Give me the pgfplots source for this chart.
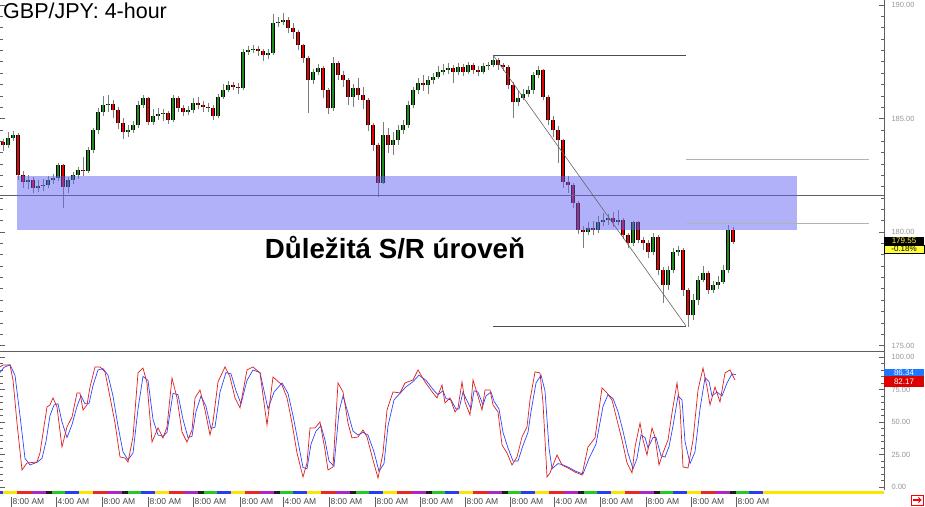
\documentclass[border=0pt]{standalone}
\usepackage{pgfplots}
\usepackage{pgfplotstable}
\pgfplotsset{compat=1.18}
\usepackage{fontspec}
\setmainfont{Liberation Sans}

\definecolor{upgreen}{RGB}{31,140,31}
\definecolor{downred}{RGB}{235,0,0}
\definecolor{wickgray}{RGB}{125,125,125}
\definecolor{bandblue}{RGB}{100,100,245}
\definecolor{framegray}{RGB}{95,95,95}
\definecolor{labelgray}{RGB}{150,150,150}
\definecolor{timegray}{RGB}{70,70,70}
\definecolor{stochblue}{RGB}{45,70,255}
\definecolor{stochred}{RGB}{220,30,30}
\definecolor{tagyellow}{RGB}{255,255,60}
\definecolor{tagblue}{RGB}{30,120,255}
\definecolor{tagred}{RGB}{220,0,0}
\definecolor{sy}{RGB}{250,230,0}
\definecolor{sr}{RGB}{235,40,40}
\definecolor{sp}{RGB}{170,40,200}
\definecolor{sk}{RGB}{30,30,30}
\definecolor{sg}{RGB}{40,200,40}
\definecolor{sb}{RGB}{40,60,240}

% GBP/JPY 4-hour candles: x (chart position), open, high, low, close
\pgfplotstableread{
x o h l c
3 183.95 184.10 183.55 183.83
8 183.83 184.40 183.70 184.14
13 184.14 184.45 184.00 184.27
18 184.27 184.35 182.30 182.51
23 182.51 182.70 181.95 182.20
28 182.20 182.50 181.90 182.29
33 182.29 182.40 181.70 181.94
38 181.94 182.30 181.75 182.03
43 182.03 182.35 181.80 182.07
48 182.07 182.45 181.95 182.29
53 182.29 182.55 182.10 182.38
58 182.38 183.05 182.25 182.95
63 182.95 183.00 181.06 181.98
68 181.98 182.40 181.70 182.29
73 182.29 182.65 182.10 182.51
78 182.51 182.85 182.35 182.73
83 182.73 183.30 182.45 182.70
88 182.70 183.75 182.60 183.61
93 183.61 184.60 183.50 184.49
98 184.49 185.45 184.30 185.29
103 185.29 186.00 185.10 185.59
108 185.59 186.05 185.30 185.64
113 185.64 185.80 185.00 185.37
118 185.37 185.50 184.55 184.80
123 184.80 185.00 184.10 184.41
128 184.41 184.70 184.20 184.49
133 184.49 184.90 184.35 184.71
138 184.71 185.75 184.60 185.59
143 185.59 186.05 185.45 185.90
148 185.90 185.95 184.70 184.85
153 184.85 185.40 184.70 185.11
158 185.11 185.45 184.95 185.20
163 185.20 185.40 184.90 185.24
168 185.24 185.35 184.75 184.93
173 184.93 186.05 184.85 185.90
178 185.90 186.00 185.30 185.46
183 185.46 185.60 185.10 185.29
188 185.29 185.55 185.15 185.37
193 185.37 185.90 185.25 185.68
198 185.68 185.95 185.40 185.59
203 185.59 185.75 185.30 185.51
208 185.51 185.70 185.30 185.46
213 185.46 185.60 184.95 185.11
218 185.11 186.10 185.00 185.95
223 185.95 186.50 185.85 186.26
228 186.26 186.65 186.15 186.48
233 186.48 186.60 186.25 186.39
238 186.39 186.55 186.10 186.34
243 186.34 188.05 186.25 187.93
248 187.93 188.20 187.80 188.02
253 188.02 188.25 187.90 188.06
258 188.06 188.20 187.75 187.97
263 187.97 188.05 187.55 187.80
268 187.80 188.05 187.60 187.89
273 187.89 189.60 187.80 189.21
278 189.21 189.45 189.05 189.25
283 189.25 189.65 189.10 189.34
288 189.34 189.45 188.75 188.99
293 188.99 189.20 188.50 188.81
298 188.81 188.90 188.00 188.24
303 188.24 188.30 187.45 187.67
308 187.67 187.75 185.24 186.70
313 186.70 187.20 186.50 187.05
318 187.05 187.40 186.90 187.22
323 187.22 187.30 185.90 186.26
328 186.26 186.35 185.20 185.46
333 185.46 187.70 185.35 187.45
338 187.45 187.55 186.70 186.92
343 186.92 187.10 186.40 186.70
348 186.70 186.80 185.60 185.95
353 185.95 186.50 185.50 186.34
358 186.34 186.80 185.80 186.04
363 186.04 186.40 185.40 185.81
368 185.81 185.90 184.45 184.71
373 184.71 184.80 183.55 183.83
378 183.83 183.90 181.54 182.16
383 182.16 184.85 182.10 184.27
388 184.27 184.60 183.50 183.83
393 183.83 184.40 183.40 184.05
398 184.05 184.70 183.85 184.49
403 184.49 184.95 184.30 184.71
408 184.71 185.75 184.60 185.59
413 185.59 186.40 185.45 186.26
418 186.26 186.80 186.10 186.56
423 186.56 186.90 186.20 186.48
428 186.48 186.85 186.10 186.70
433 186.70 187.00 186.50 186.83
438 186.83 187.30 186.75 187.05
443 187.05 187.40 186.90 187.14
448 187.14 187.45 186.95 187.22
453 187.22 187.35 186.55 187.05
458 187.05 187.45 186.90 187.27
463 187.27 187.40 186.85 187.05
468 187.05 187.50 186.95 187.36
473 187.36 187.45 186.95 187.14
478 187.14 187.30 186.85 187.05
483 187.05 187.45 186.95 187.31
488 187.31 187.50 187.15 187.36
493 187.36 187.80 187.25 187.58
498 187.58 187.65 187.15 187.36
503 187.36 187.45 187.10 187.27
508 187.27 187.35 186.30 186.48
513 186.48 186.60 185.02 185.73
518 185.73 186.20 185.55 185.90
523 185.90 186.30 185.80 186.08
528 186.08 186.45 185.95 186.26
533 186.26 187.05 186.10 186.92
538 186.92 187.30 186.80 187.14
543 187.14 187.20 185.80 185.95
548 185.95 186.05 184.70 184.93
553 184.93 185.10 184.20 184.49
558 184.49 184.65 183.04 184.05
563 184.05 184.10 181.95 182.20
568 182.20 182.45 181.72 182.07
573 182.07 182.15 181.05 181.28
578 181.28 181.35 179.90 180.09
583 180.09 180.25 179.30 180.00
588 180.00 180.45 179.85 180.18
593 180.18 180.50 179.85 180.09
598 180.09 180.70 179.95 180.44
603 180.44 180.85 180.25 180.53
608 180.53 180.80 180.30 180.62
613 180.62 180.90 180.20 180.44
618 180.44 180.95 180.30 180.53
623 180.53 180.60 179.70 179.87
628 179.87 179.95 179.30 179.52
633 179.52 180.50 179.40 180.44
638 180.44 180.50 179.50 179.65
643 179.65 179.80 179.20 179.52
648 179.52 179.65 178.85 179.12
653 179.12 179.95 179.00 179.78
658 179.78 179.85 178.10 178.33
663 178.33 178.45 176.87 177.67
668 177.67 178.50 177.45 178.33
673 178.33 179.30 178.20 179.12
678 179.12 179.40 178.95 179.21
683 179.21 179.30 177.20 177.44
688 177.44 177.55 175.82 176.34
693 176.34 177.25 176.10 177.00
698 177.00 178.05 176.80 177.89
703 177.89 178.50 177.80 178.19
708 178.19 178.30 177.25 177.44
713 177.44 177.85 177.30 177.67
718 177.67 178.05 177.50 177.80
723 177.80 178.55 177.70 178.33
728 178.33 180.30 178.20 180.09
733 180.09 180.20 179.45 179.55
}\candles

% stochastic, fast line (red)
\pgfplotstableread{
x v
0 92.3
3 93.8
10 93.8
13 82.3
17 49.2
22 13.1
27 18.5
37 19.2
40 26.2
43 41.5
47 61.5
50 63.1
53 68.5
57 61.5
62 30.8
67 46.2
72 53.8
77 72.3
80 72.3
83 59.2
87 63.1
90 76.9
95 92.3
100 92.3
105 88.5
110 69.2
115 49.2
120 23.1
125 22.3
128 19.2
133 38.5
138 87.7
143 91.5
147 80.0
152 34.6
158 45.4
163 37.7
167 46.2
172 83.8
177 68.5
182 42.3
187 34.6
192 43.8
195 68.5
200 74.6
205 59.2
210 40.0
213 50.0
218 80.8
225 92.3
230 84.6
235 68.5
240 60.8
247 90.0
253 92.3
260 87.7
267 47.7
273 84.6
282 78.5
287 68.5
292 49.2
297 26.2
303 7.7
307 18.5
310 45.4
315 45.4
320 50.0
325 28.5
328 13.1
333 15.4
338 80.0
343 73.1
348 49.2
352 37.7
358 38.5
363 43.8
367 38.5
373 20.8
378 6.9
383 26.2
387 59.2
393 73.1
400 72.3
405 80.0
413 82.3
418 90.0
425 80.8
433 72.3
437 68.5
442 78.5
445 64.6
450 68.5
455 57.7
458 60.8
462 80.8
465 65.4
470 55.4
473 82.3
477 72.3
482 59.2
485 74.6
490 74.6
493 63.1
498 57.7
502 32.3
507 26.2
512 16.9
517 23.1
522 38.5
527 46.2
530 66.9
535 88.5
540 87.7
543 64.6
547 7.7
550 10.8
557 24.6
562 16.9
568 14.6
575 11.5
582 9.2
588 30.8
595 37.7
602 76.2
607 72.3
612 66.9
617 51.5
622 36.2
627 18.5
632 10.8
635 30.8
640 49.2
643 36.2
647 24.6
652 45.4
655 38.5
659 16.9
663 26.2
668 36.2
672 56.9
677 80.0
680 61.5
683 15.4
688 14.6
693 36.2
698 74.6
703 91.5
707 76.9
710 63.1
715 76.9
720 65.4
725 87.7
730 90.0
735 82.2
}\stochfast

% stochastic, slow line (blue)
\pgfplotstableread{
x v
0 88
4 92
10 94
15 86
20 55
25 22
30 17
37 19
42 22
46 35
50 55
54 63
58 64
62 50
67 38
72 48
77 62
81 70
85 64
89 64
93 78
98 90
103 91
108 86
113 70
118 47
123 27
128 21
133 26
138 60
143 85
148 82
153 52
158 40
163 39
167 42
173 72
178 71
183 52
188 38
192 39
196 58
201 70
206 62
211 45
215 46
220 73
226 88
231 87
236 74
241 64
247 82
253 90
260 88
268 60
274 73
282 80
288 72
293 55
298 35
303 15
307 14
311 33
316 43
321 47
325 36
329 20
334 16
339 58
343 70
348 57
353 43
358 40
363 42
368 40
374 27
379 12
384 18
388 47
394 67
400 72
406 77
413 81
419 86
426 82
433 75
438 71
443 74
446 68
451 67
456 60
459 60
463 73
466 68
471 60
474 74
478 73
483 63
486 70
491 73
494 66
499 60
503 42
508 30
513 20
518 20
523 32
528 42
531 58
536 80
541 86
545 74
549 30
552 14
558 18
563 17
569 15
576 12
583 10
589 22
596 33
603 62
608 71
613 68
618 58
623 43
628 26
633 14
637 22
641 40
645 38
648 30
653 38
656 38
661 24
665 23
669 31
673 47
678 70
682 67
685 35
690 18
695 27
700 60
705 84
709 81
712 70
717 73
722 70
727 80
732 87
736 86.3
}\stochslow

\newcommand{\tl}[1]{\textcolor{framegray}{\rule[-2pt]{0.6pt}{10pt}}\hspace{1.5pt}#1}

\pgfplotsset{panel/.style={
  scale only axis, width=884pt, anchor=south west,
  xmin=0, xmax=884, clip=true,
  axis line style={draw=none},
  tick align=inside, ytick pos=both, yticklabel pos=right,
  major tick length=5pt, minor tick length=3pt,
  tick style={framegray, line width=0.5pt},
  yticklabel style={font=\fontsize{7.5}{9}\selectfont, text=labelgray, anchor=west, xshift=4pt},
}}

\begin{document}
\begin{tikzpicture}[x=1pt,y=1pt]

% price panel
\begin{axis}[panel, at={(0pt,156pt)}, height=350pt,
  ymin=174.80, ymax=190.22,
  xtick=\empty,
  ytick={175,180,185,190}, minor y tick num=9,
  yticklabels={175.00,180.00,185.00,190.00}]

\addplot[draw=none, mark=none, forget plot,
  error bars/.cd, y dir=plus, y explicit, error mark=none,
  error bar style={draw=wickgray, line width=0.8pt}]
  table[x=x, y=l, y error expr={\thisrow{h}-\thisrow{l}}] {\candles};

\addplot[draw=none, mark=none, forget plot,
  error bars/.cd, y dir=plus, y explicit, error mark=none,
  error bar style={draw=black, line width=3.4pt}]
  table[x=x, y expr={min(\thisrow{o},\thisrow{c})}, y error expr={max(abs(\thisrow{c}-\thisrow{o}),0.04)}] {\candles};

\addplot[draw=none, mark=none, forget plot, unbounded coords=discard,
  error bars/.cd, y dir=plus, y explicit, error mark=none,
  error bar style={draw=upgreen, line width=2pt}]
  table[x=x, y expr={\thisrow{c}>=\thisrow{o} ? \thisrow{o} : nan}, y error expr={max(\thisrow{c}-\thisrow{o},0.04)}] {\candles};

\addplot[draw=none, mark=none, forget plot, unbounded coords=discard,
  error bars/.cd, y dir=plus, y explicit, error mark=none,
  error bar style={draw=downred, line width=2pt}]
  table[x=x, y expr={\thisrow{c}<\thisrow{o} ? \thisrow{c} : nan}, y error expr={max(\thisrow{o}-\thisrow{c},0.04)}] {\candles};

% support / resistance level and zone
\draw[framegray, line width=0.8pt] (axis cs:0,181.59) -- (axis cs:884,181.59);
\fill[bandblue, opacity=0.5] (axis cs:17,180.09) rectangle (axis cs:797,182.47);

% swing high / low and retracement lines
\draw[black!70, line width=0.7pt] (axis cs:493,187.80) -- (axis cs:686,187.80);
\draw[black!70, line width=0.7pt] (axis cs:493,175.86) -- (axis cs:686,175.86);
\draw[black!60, line width=0.6pt] (axis cs:493,187.80) -- (axis cs:686,175.86);
\draw[black!30, line width=0.6pt] (axis cs:686,183.22) -- (axis cs:869,183.22);
\draw[black!30, line width=0.6pt] (axis cs:686,180.40) -- (axis cs:869,180.40);
\end{axis}

% stochastic panel
\begin{axis}[panel, at={(0pt,16pt)}, height=138pt,
  ymin=-2.3, ymax=103.8,
  ytick={0,25,50,75,100}, minor y tick num=4,
  yticklabels={0.00,25.00,50.00,75.00,100.00},
  xtick={8,53,99,145,190,237,280,326,372,417,462,507,551,597,643,688,733},
  xticklabels={\tl{8:00 AM},\tl{4:00 AM},\tl{8:00 AM},\tl{8:00 AM},\tl{8:00 AM},\tl{8:00 AM},\tl{4:00 AM},\tl{8:00 AM},\tl{8:00 AM},\tl{8:00 AM},\tl{8:00 AM},\tl{8:00 AM},\tl{4:00 AM},\tl{8:00 AM},\tl{8:00 AM},\tl{8:00 AM},\tl{8:00 AM}},
  xtick style={draw=none},
  xticklabel style={font=\fontsize{8.5}{10}\selectfont, text=timegray, anchor=north west, xshift=-1pt, yshift=-3pt}]
\addplot[stochblue, line width=0.7pt] table[x=x, y=v] {\stochslow};
\addplot[stochred, line width=0.7pt] table[x=x, y=v] {\stochfast};
\end{axis}

% frame lines
\draw[framegray, line width=0.8pt] (884,16) -- (884,506);
\draw[framegray, line width=1pt] (0,155) -- (884,155);

% session colour strip
\foreach \s in {3,79,...,700} {
  \fill[sy] (\s,12) rectangle ({\s+14},15.5);
  \fill[sr] ({\s+14},12) rectangle ({\s+29},15.5);
  \fill[sp] ({\s+29},12) rectangle ({\s+43},15.5);
  \fill[sk] ({\s+43},12) rectangle ({\s+49},15.5);
  \fill[sg] ({\s+49},12) rectangle ({\s+62},15.5);
  \fill[sb] ({\s+62},12) rectangle ({\s+76},15.5);
}
\fill[sb] (0,12) rectangle (3,15.5);
\fill[sy] (763,12) rectangle (884,15.5);

% title and annotation
\node[anchor=north west, inner sep=0pt, font=\fontsize{21.5}{24}\selectfont] at (3,503) {GBP/JPY: 4-hour};
\node[anchor=base, inner sep=0pt, font=\bfseries\fontsize{27.7}{30}\selectfont] at (395,247) {Důležitá S/R úroveň};

% price tags
\fill[black] (884,261) rectangle (924,269);
\node[text=tagyellow, font=\fontsize{8}{9}\selectfont, inner sep=0pt] at (904,265) {179.55};
\filldraw[fill=tagyellow, draw=black, line width=0.4pt] (884,253) rectangle (924,261);
\node[font=\fontsize{8}{9}\selectfont, inner sep=0pt] at (904,257) {-0.18\%};
\fill[tagblue] (884,129) rectangle (924,137);
\node[text=white, font=\fontsize{8}{9}\selectfont, inner sep=0pt] at (904,133.5) {86.34};
\fill[tagred] (884,119) rectangle (924,130);
\node[text=white, font=\fontsize{8}{9}\selectfont, inner sep=0pt] at (904,124.5) {82.17};

% scroll icon
\draw[red, line width=0.8pt, fill=white] (911,1) rectangle (923,11);
\draw[red, line width=1.2pt, ->] (913,6) -- (921.5,6);

\pgfresetboundingbox
\path[use as bounding box] (0,0) rectangle (925,506);
\end{tikzpicture}
\end{document}
